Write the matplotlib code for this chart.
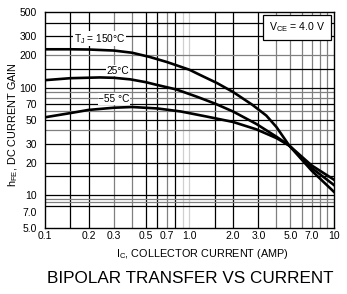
import numpy as np
import matplotlib.pyplot as plt
from matplotlib.ticker import FixedLocator, FixedFormatter, NullLocator

plt.rcParams['font.family'] = ['Liberation Sans Narrow', 'Liberation Sans', 'DejaVu Sans']

# collector current (A) and dc current gain
ic_150 = [0.1, 0.15, 0.2, 0.3, 0.4, 0.53, 0.7, 0.82, 1.0, 1.18, 1.55, 2.0, 2.73, 3.4, 4.0, 4.9, 7.0, 10.0]
hfe_150 = [226, 226, 225, 220, 210, 192, 172, 160, 146, 131, 110, 91, 69, 55, 43, 29, 17, 10.8]

ic_25 = [0.1, 0.15, 0.24, 0.3, 0.39, 0.5, 0.59, 0.81, 1.13, 1.5, 2.0, 2.9, 4.0, 4.9, 7.0, 10.0]
hfe_25 = [117, 122, 124, 123, 119, 112, 106, 96, 82, 71, 60, 46, 35, 29, 18, 12.5]

ic_m55 = [0.1, 0.15, 0.2, 0.3, 0.4, 0.6, 0.87, 1.3, 2.0, 2.9, 4.0, 4.9, 7.0, 10.0]
hfe_m55 = [53, 58, 62, 65, 66, 64, 60, 54, 48, 41, 34, 29, 19, 14]

x_ticks = [0.1, 0.2, 0.3, 0.5, 0.7, 1.0, 2.0, 3.0, 5.0, 7.0, 10]
x_labels = ['0.1', '0.2', '0.3', '0.5', '0.7', '1.0', '2.0', '3.0', '5.0', '7.0', '10']
y_ticks = [5, 7, 10, 20, 30, 50, 70, 100, 200, 300, 500]
y_labels = ['5.0', '7.0', '10', '20', '30', '50', '70', '100', '200', '300', '500']

fig = plt.figure(figsize=(3.47, 2.94), dpi=100)
ax = fig.add_axes([0.1297, 0.2245, 0.8328, 0.7345])
ax.set_xscale('log')
ax.set_yscale('log')
ax.set_xlim(0.1, 10)
ax.set_ylim(5, 500)

# grid lines of the datasheet (black / gray / light gray)
vgrid = {'black': [0.15, 0.2, 0.5, 0.6, 0.8, 1.5, 2, 3],
         '#808080': [0.3, 0.4, 0.7, 4, 5, 6, 7, 8, 9],
         '#d0d0d0': [0.9, 1.0]}
hgrid = {'black': [400, 300, 150, 100, 70, 50, 30, 20, 15, 10, 8],
         '#808080': [200, 90, 80, 60, 40, 9.3, 8.7]}
for c, xs in vgrid.items():
    for v in xs:
        ax.axvline(v, color=c, lw=0.9, zorder=1)
for c, ys in hgrid.items():
    for v in ys:
        ax.axhline(v, color=c, lw=0.9, zorder=1)

ax.plot(ic_150, hfe_150, color='black', lw=1.9, zorder=3)
ax.plot(ic_25, hfe_25, color='black', lw=1.9, zorder=3)
ax.plot(ic_m55, hfe_m55, color='black', lw=1.9, zorder=3)

# labels sit over the grid but under the curves
box = dict(facecolor='white', edgecolor='none', pad=0.5)
ax.text(0.24, 283, 'T$_\\mathregular{J}$ = 150°C', fontsize=7.3, ha='center',
        va='center', bbox=box, zorder=2)
ax.text(0.32, 143, '25°C', fontsize=7.3, ha='center', va='center', bbox=box, zorder=2)
ax.text(0.30, 78, '\u221255 °C', fontsize=7.3, ha='center', va='center', bbox=box, zorder=2)
ax.text(5.55, 363, r'V$_\mathregular{CE}$ = 4.0 V', fontsize=7.6, ha='center', va='center',
        bbox=dict(facecolor='white', edgecolor='black', lw=0.9, pad=4), zorder=4)

ax.xaxis.set_major_locator(FixedLocator(x_ticks))
ax.xaxis.set_major_formatter(FixedFormatter(x_labels))
ax.xaxis.set_minor_locator(NullLocator())
ax.yaxis.set_major_locator(FixedLocator(y_ticks))
ax.yaxis.set_major_formatter(FixedFormatter(y_labels))
ax.yaxis.set_minor_locator(NullLocator())
ax.tick_params(axis='x', length=0, labelsize=7.5, pad=2)
ax.tick_params(axis='y', length=0, labelsize=7.5, pad=6)
for s in ax.spines.values():
    s.set_linewidth(1.0)

ax.set_ylabel(r'h$_\mathregular{FE}$, DC CURRENT GAIN', fontsize=7.8)
ax.yaxis.set_label_coords(-0.085, 0.48)
ax.set_xlabel(r'I$_\mathregular{C}$, COLLECTOR CURRENT (AMP)', fontsize=7.8)
ax.xaxis.set_label_coords(0.545, -0.09)
fig.text(0.548, 0.054, 'BIPOLAR TRANSFER VS CURRENT', fontsize=12.3, ha='center', va='center')

fig.savefig('out.png', dpi=100)
